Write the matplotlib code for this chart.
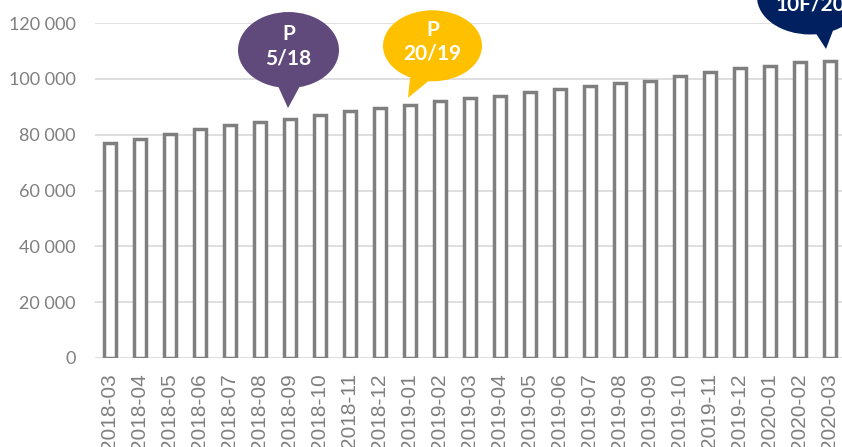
import matplotlib
matplotlib.use("Agg")
import matplotlib.pyplot as plt
import matplotlib.transforms as mtransforms
from matplotlib.patches import Ellipse, Polygon
from matplotlib.ticker import FuncFormatter

months = ['2018-03', '2018-04', '2018-05', '2018-06', '2018-07', '2018-08', '2018-09',
          '2018-10', '2018-11', '2018-12', '2019-01', '2019-02', '2019-03', '2019-04',
          '2019-05', '2019-06', '2019-07', '2019-08', '2019-09', '2019-10', '2019-11',
          '2019-12', '2020-01', '2020-02', '2020-03']
values = [77000, 78500, 80300, 82100, 83500, 84600, 85600, 87000, 88500, 89400,
          90700, 92000, 93100, 93900, 95400, 96300, 97500, 98600, 99400, 101100,
          102400, 103800, 104600, 105900, 106400]
y_ticks = [0, 20000, 40000, 60000, 80000, 100000, 120000]

# callouts: bar index, text, colour
callout_bars = [6, 10, 24]
callout_text = ['P\n5/18', 'P\n20/19', 'P\n10F/20']
callout_colors = ['#604a7b', '#ffc000', '#002060']

W, H = 842, 447
fig = plt.figure(figsize=(W / 100, H / 100), dpi=100)
ax = fig.add_axes([95 / W, (H - 358) / H, 750 / W, 335 / H])

x = range(len(months))
ax.bar(x, values, width=0.38, color='white', edgecolor='#7f7f7f', linewidth=2.5, zorder=3)

ax.set_xlim(-0.5, len(months) - 0.5)
ax.set_ylim(0, 120000)
ax.set_yticks(y_ticks)
ax.yaxis.set_major_formatter(FuncFormatter(lambda v, p: f"{int(v):,}".replace(",", " ")))
ax.set_xticks(list(x))
ax.set_xticklabels(months, rotation=90, fontsize=15, family='Liberation Sans', color='#7f7f7f')
for lbl in ax.get_yticklabels():
    lbl.set_family('Lato')
    lbl.set_fontsize(13)
    lbl.set_color('#7f7f7f')
ax.tick_params(axis='both', length=0)
ax.tick_params(axis='y', pad=14)
ax.tick_params(axis='x', pad=11)
ax.grid(axis='y', color='#d9d9d9', linewidth=1.2, zorder=0)
for s in ax.spines.values():
    s.set_visible(False)

# bubble geometry in pixels relative to the bar top (dx right, dy up)
tips = [(-2, 11), (-2, 7), (-4, 12)]
centers = [(-1.5, 69), (22.5, 59), (-20, 64)]
sizes = [(101, 76), (99, 71), (106, 75)]
bases = [[(-12, 33), (10, 33)], [(0, 27), (20, 25)], [(-15, 29), (4, 33)]]

ident = mtransforms.IdentityTransform()
for k, i in enumerate(callout_bars):
    bx, by = ax.transData.transform((i, values[i]))
    col = callout_colors[k]
    pts = [(bx + tips[k][0], by + tips[k][1])] + [(bx + a, by + b) for a, b in bases[k]]
    fig.add_artist(Polygon(pts, closed=True, facecolor=col, edgecolor='none',
                           transform=ident, zorder=5))
    cx, cy = bx + centers[k][0], by + centers[k][1]
    fig.add_artist(Ellipse((cx, cy), sizes[k][0], sizes[k][1], facecolor=col,
                           edgecolor='none', transform=ident, zorder=5))
    fig.text(cx, cy + 4, callout_text[k], transform=ident, ha='center', va='center',
             color='white', fontsize=15, fontweight='bold', family='Lato',
             linespacing=1.25, zorder=6)

fig.savefig('out.png', dpi=100)
